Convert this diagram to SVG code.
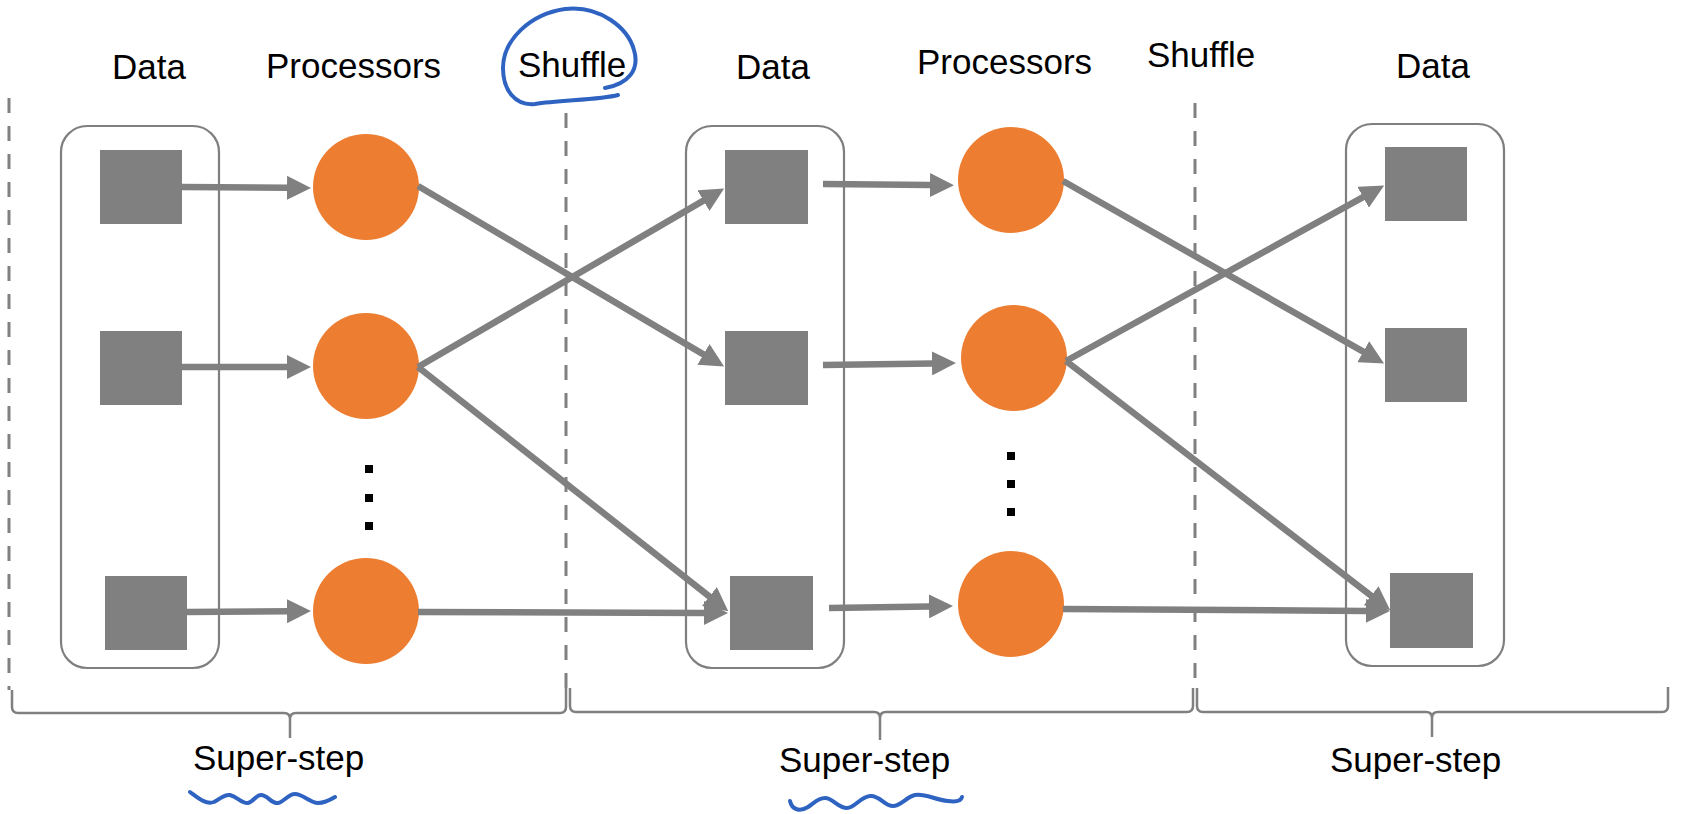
<svg xmlns="http://www.w3.org/2000/svg" width="1681" height="814" viewBox="0 0 1681 814">
  <style>
    .label { font-family: "Liberation Sans", Arial, sans-serif; font-size: 35px; fill: #000; }
    .group { fill: none; stroke: #7f7f7f; stroke-width: 2.2; }
    .data { fill: #808080; }
    .proc { fill: #ED7D31; }
    .dot { fill: #000; }
    .edge { fill: none; stroke: #808080; stroke-width: 6.5; marker-end: url(#arrowhead); }
    .divider { fill: none; stroke: #808080; stroke-width: 3; stroke-dasharray: 15 13; }
    .brace { fill: none; stroke: #808080; stroke-width: 2.5; stroke-linejoin: round; }
    .ink { fill: none; stroke: #2F63C2; stroke-width: 4; stroke-linecap: round; stroke-linejoin: round; }
  </style>
  <defs>
    <marker id="arrowhead" markerUnits="userSpaceOnUse" markerWidth="24" markerHeight="24" viewBox="0 0 24 24" refX="1" refY="12" orient="auto">
      <path d="M0,0 L24,12 L0,24 z" fill="#808080"/>
    </marker>
  </defs>
  <rect width="1681" height="814" fill="#fff"/>

  <!-- column headings -->
  <g id="headings">
    <text class="label" x="112" y="79">Data</text>
    <text class="label" x="266" y="78">Processors</text>
    <text class="label" x="518" y="77">Shuffle</text>
    <text class="label" x="736" y="79">Data</text>
    <text class="label" x="917" y="74">Processors</text>
    <text class="label" x="1147" y="67">Shuffle</text>
    <text class="label" x="1396" y="78">Data</text>
  </g>

  <!-- phase boundaries -->
  <g id="dividers">
    <line class="divider" x1="9" y1="98" x2="9" y2="690"/>
    <line class="divider" x1="566" y1="113" x2="566" y2="690"/>
    <line class="divider" x1="1195" y1="103" x2="1195" y2="688"/>
  </g>

  <!-- data partitions -->
  <g id="data-1">
    <rect class="group" x="61" y="126" width="158" height="542" rx="26"/>
    <rect class="data" x="100" y="150" width="82" height="74"/>
    <rect class="data" x="100" y="331" width="82" height="74"/>
    <rect class="data" x="105" y="576" width="82" height="74"/>
  </g>
  <g id="data-2">
    <rect class="group" x="686" y="126" width="158" height="542" rx="26"/>
    <rect class="data" x="725" y="150" width="83" height="74"/>
    <rect class="data" x="725" y="331" width="83" height="74"/>
    <rect class="data" x="730" y="576" width="83" height="74"/>
  </g>
  <g id="data-3">
    <rect class="group" x="1346" y="124" width="158" height="542" rx="26"/>
    <rect class="data" x="1385" y="147" width="82" height="74"/>
    <rect class="data" x="1385" y="328" width="82" height="74"/>
    <rect class="data" x="1390" y="573" width="83" height="75"/>
  </g>

  <!-- processors -->
  <g id="processors-1">
    <circle class="proc" cx="366" cy="187" r="53"/>
    <circle class="proc" cx="366" cy="366" r="53"/>
    <circle class="proc" cx="366" cy="611" r="53"/>
    <rect class="dot" x="365" y="465" width="8" height="8"/>
    <rect class="dot" x="365" y="494" width="8" height="8"/>
    <rect class="dot" x="365" y="522" width="8" height="8"/>
  </g>
  <g id="processors-2">
    <circle class="proc" cx="1011" cy="180" r="53"/>
    <circle class="proc" cx="1014" cy="358" r="53"/>
    <circle class="proc" cx="1011" cy="604" r="53"/>
    <rect class="dot" x="1007" y="452" width="8" height="8"/>
    <rect class="dot" x="1007" y="480" width="8" height="8"/>
    <rect class="dot" x="1007" y="508" width="8" height="8"/>
  </g>

  <!-- data flow -->
  <g id="connectors">
    <path class="edge" d="M182 187 L288 187.8"/>
    <path class="edge" d="M182 367 L288 367"/>
    <path class="edge" d="M187 612 L288 611.2"/>

    <path class="edge" d="M418 186 L704.3 354.9"/>
    <path class="edge" d="M418 367 L704.3 200.1"/>
    <path class="edge" d="M418 367 L710.2 597.1"/>
    <path class="edge" d="M418 612 L705 612.9"/>

    <path class="edge" d="M823 184 L931 185"/>
    <path class="edge" d="M823 365 L933 363.4"/>
    <path class="edge" d="M829 608 L930 606.4"/>

    <path class="edge" d="M1063 181 L1364.1 352.2"/>
    <path class="edge" d="M1066 361 L1364 196.7"/>
    <path class="edge" d="M1066 361 L1372 596.3"/>
    <path class="edge" d="M1063 609 L1367 610.9"/>
  </g>

  <!-- super-step braces -->
  <g id="braces">
    <path class="brace" d="M12 690 L12 707 Q12 713 18 713 L284 713 Q290 713 290 719 L290 738 M290 719 Q290 713 296 713 L560 713 Q566 713 566 707 L566 688"/>
    <path class="brace" d="M570 688 L570 706 Q570 712 576 712 L874 712 Q880 712 880 718 L880 740 M880 718 Q880 712 886 712 L1187 712 Q1193 712 1193 706 L1193 688"/>
    <path class="brace" d="M1197 688 L1197 706 Q1197 712 1203 712 L1426 712 Q1432 712 1432 718 L1432 737 M1432 718 Q1432 712 1438 712 L1662 712 Q1668 712 1668 706 L1668 687"/>
  </g>
  <g id="step-labels">
    <text class="label" x="193" y="770">Super-step</text>
    <text class="label" x="779" y="772">Super-step</text>
    <text class="label" x="1330" y="772">Super-step</text>
  </g>

  <!-- hand-drawn emphasis -->
  <g id="annotations">
    <path class="ink" d="M618 95 C600 100 560 100 535 104 C515 106 503 90 503 68 C503 40 530 14 565 9 C600 5 628 28 634 50 C640 70 628 84 605 88"/>
    <path class="ink" d="M190 792 C198 798 206 805 214 802 C220 799 224 794 230 795 C238 797 242 804 248 803 C253 802 256 795 261 795 C268 795 271 804 278 803 C284 802 288 794 295 794 C303 794 310 803 318 803 C325 803 330 800 335 797"/>
    <path class="ink" d="M790 801 C792 810 800 812 808 807 C814 803 818 798 825 798 C833 798 838 808 847 808 C855 808 860 797 870 796 C880 795 884 806 893 806 C901 806 906 797 915 795 C925 793 935 800 948 801 C955 802 961 801 962 797"/>
  </g>
</svg>
